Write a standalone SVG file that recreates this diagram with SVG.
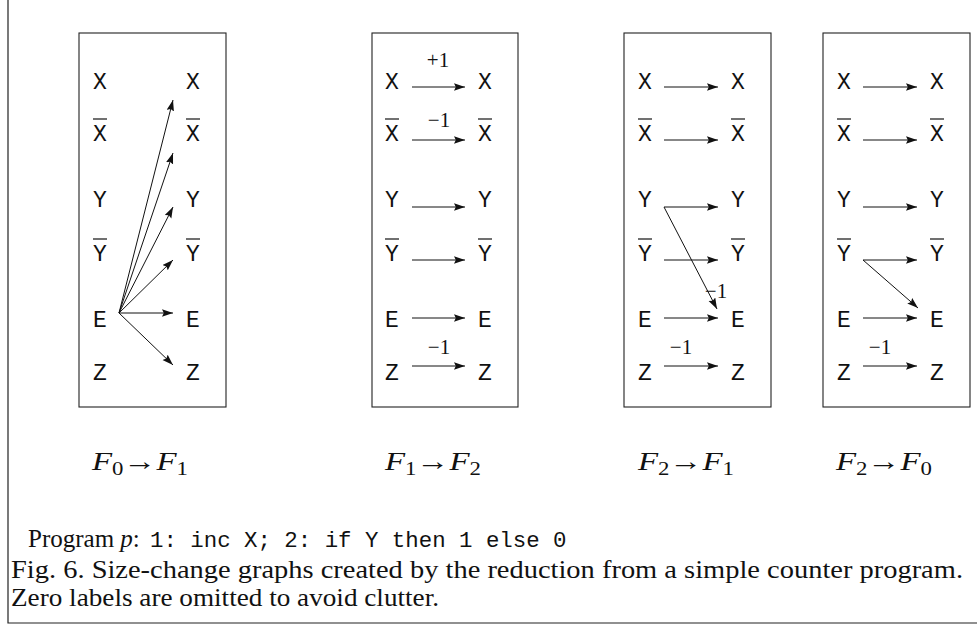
<svg xmlns="http://www.w3.org/2000/svg" width="977" height="626" viewBox="0 0 977 626">
<defs>
<style>
.bg{fill:#fff}
.box{fill:none;stroke:#222;stroke-width:1.1}
.frame{fill:none;stroke:#222;stroke-width:1.2}
.v{font-family:"Liberation Mono","DejaVu Sans Mono",monospace;font-size:23px;fill:#111;text-anchor:middle}
.ovl{stroke:#111;stroke-width:1.2}
.e{stroke:#111;stroke-width:1;fill:none;marker-end:url(#ah)}
.lab{font-family:"Liberation Serif","DejaVu Serif",serif;font-size:21px;fill:#111;text-anchor:middle}
.cap{font-family:"Liberation Serif","DejaVu Serif",serif;font-size:25px;fill:#111}
.fl{font-family:"Liberation Serif","DejaVu Serif",serif;font-size:26px;fill:#111}
.pg{font-family:"Liberation Serif","DejaVu Serif",serif;font-size:25px;fill:#111}
.tt{font-family:"Liberation Mono","DejaVu Sans Mono",monospace;font-size:22.4px}
</style>
<marker id="ah" markerWidth="12" markerHeight="8" refX="11" refY="3.75" orient="auto" markerUnits="userSpaceOnUse">
<path d="M0,0 L11,3.75 L0,7.5 L1.8,3.75 z" fill="#111"/>
</marker>
</defs>
<rect class="bg" x="0" y="0" width="977" height="626"/>
<path class="frame" d="M8,0 V623 H977"/>

<g id="graph-F0F1">
<rect class="box" x="79" y="33" width="147" height="374"/>
<g id="g1-X"><text class="v" x="100" y="89">X</text></g>
<g id="g1-Xb"><text class="v" x="100" y="141">X</text><line class="ovl" x1="93" y1="119" x2="107" y2="119"/></g>
<g id="g1-Y"><text class="v" x="100" y="207">Y</text></g>
<g id="g1-Yb"><text class="v" x="100" y="261">Y</text><line class="ovl" x1="93" y1="239" x2="107" y2="239"/></g>
<g id="g1-E"><text class="v" x="100" y="327">E</text></g>
<g id="g1-Z"><text class="v" x="100" y="380">Z</text></g>
<g id="g1-X2"><text class="v" x="193" y="89">X</text></g>
<g id="g1-Xb2"><text class="v" x="193" y="141">X</text><line class="ovl" x1="186" y1="119" x2="200" y2="119"/></g>
<g id="g1-Y2"><text class="v" x="193" y="207">Y</text></g>
<g id="g1-Yb2"><text class="v" x="193" y="261">Y</text><line class="ovl" x1="186" y1="239" x2="200" y2="239"/></g>
<g id="g1-E2"><text class="v" x="193" y="327">E</text></g>
<g id="g1-Z2"><text class="v" x="193" y="380">Z</text></g>
</g>

<g id="graph-F1F2">
<rect class="box" x="372" y="33" width="146" height="374"/>
<g id="g2-X"><text class="v" x="392" y="89">X</text></g>
<g id="g2-Xb"><text class="v" x="392" y="141">X</text><line class="ovl" x1="385" y1="119" x2="399" y2="119"/></g>
<g id="g2-Y"><text class="v" x="392" y="207">Y</text></g>
<g id="g2-Yb"><text class="v" x="392" y="261">Y</text><line class="ovl" x1="385" y1="239" x2="399" y2="239"/></g>
<g id="g2-E"><text class="v" x="392" y="327">E</text></g>
<g id="g2-Z"><text class="v" x="392" y="380">Z</text></g>
<g id="g2-X2"><text class="v" x="485" y="89">X</text></g>
<g id="g2-Xb2"><text class="v" x="485" y="141">X</text><line class="ovl" x1="478" y1="119" x2="492" y2="119"/></g>
<g id="g2-Y2"><text class="v" x="485" y="207">Y</text></g>
<g id="g2-Yb2"><text class="v" x="485" y="261">Y</text><line class="ovl" x1="478" y1="239" x2="492" y2="239"/></g>
<g id="g2-E2"><text class="v" x="485" y="327">E</text></g>
<g id="g2-Z2"><text class="v" x="485" y="380">Z</text></g>
</g>

<g id="graph-F2F1">
<rect class="box" x="624" y="33" width="147" height="374"/>
<g id="g3-X"><text class="v" x="645" y="89">X</text></g>
<g id="g3-Xb"><text class="v" x="645" y="141">X</text><line class="ovl" x1="638" y1="119" x2="652" y2="119"/></g>
<g id="g3-Y"><text class="v" x="645" y="207">Y</text></g>
<g id="g3-Yb"><text class="v" x="645" y="261">Y</text><line class="ovl" x1="638" y1="239" x2="652" y2="239"/></g>
<g id="g3-E"><text class="v" x="645" y="327">E</text></g>
<g id="g3-Z"><text class="v" x="645" y="380">Z</text></g>
<g id="g3-X2"><text class="v" x="738" y="89">X</text></g>
<g id="g3-Xb2"><text class="v" x="738" y="141">X</text><line class="ovl" x1="731" y1="119" x2="745" y2="119"/></g>
<g id="g3-Y2"><text class="v" x="738" y="207">Y</text></g>
<g id="g3-Yb2"><text class="v" x="738" y="261">Y</text><line class="ovl" x1="731" y1="239" x2="745" y2="239"/></g>
<g id="g3-E2"><text class="v" x="738" y="327">E</text></g>
<g id="g3-Z2"><text class="v" x="738" y="380">Z</text></g>
</g>

<g id="graph-F2F0">
<rect class="box" x="823" y="33" width="147" height="374"/>
<g id="g4-X"><text class="v" x="844" y="89">X</text></g>
<g id="g4-Xb"><text class="v" x="844" y="141">X</text><line class="ovl" x1="837" y1="119" x2="851" y2="119"/></g>
<g id="g4-Y"><text class="v" x="844" y="207">Y</text></g>
<g id="g4-Yb"><text class="v" x="844" y="261">Y</text><line class="ovl" x1="837" y1="239" x2="851" y2="239"/></g>
<g id="g4-E"><text class="v" x="844" y="327">E</text></g>
<g id="g4-Z"><text class="v" x="844" y="380">Z</text></g>
<g id="g4-X2"><text class="v" x="937" y="89">X</text></g>
<g id="g4-Xb2"><text class="v" x="937" y="141">X</text><line class="ovl" x1="930" y1="119" x2="944" y2="119"/></g>
<g id="g4-Y2"><text class="v" x="937" y="207">Y</text></g>
<g id="g4-Yb2"><text class="v" x="937" y="261">Y</text><line class="ovl" x1="930" y1="239" x2="944" y2="239"/></g>
<g id="g4-E2"><text class="v" x="937" y="327">E</text></g>
<g id="g4-Z2"><text class="v" x="937" y="380">Z</text></g>
</g>

<g id="connectors">
<line class="e" x1="119" y1="313" x2="173" y2="100"/>
<line class="e" x1="119" y1="313" x2="173" y2="153"/>
<line class="e" x1="119" y1="313" x2="173" y2="207"/>
<line class="e" x1="119" y1="313" x2="173" y2="260"/>
<line class="e" x1="119" y1="313" x2="173" y2="313"/>
<line class="e" x1="119" y1="313" x2="173" y2="365"/>

<line class="e" x1="412" y1="87" x2="465" y2="87"/>
<line class="e" x1="412" y1="140" x2="465" y2="140"/>
<line class="e" x1="412" y1="207" x2="465" y2="207"/>
<line class="e" x1="412" y1="260" x2="465" y2="260"/>
<line class="e" x1="412" y1="318" x2="465" y2="318"/>
<line class="e" x1="412" y1="366" x2="465" y2="366"/>
<text class="lab" x="438" y="67">+1</text>
<text class="lab" x="439" y="127">−1</text>
<text class="lab" x="439" y="354">−1</text>

<line class="e" x1="664" y1="87" x2="718" y2="87"/>
<line class="e" x1="664" y1="140" x2="718" y2="140"/>
<line class="e" x1="664" y1="207" x2="718" y2="207"/>
<line class="e" x1="664" y1="260" x2="718" y2="260"/>
<line class="e" x1="664" y1="318" x2="718" y2="318"/>
<line class="e" x1="664" y1="366" x2="718" y2="366"/>
<line class="e" x1="664" y1="207" x2="717" y2="309"/>
<text class="lab" x="716" y="298">−1</text>
<text class="lab" x="681" y="354">−1</text>

<line class="e" x1="863" y1="87" x2="917" y2="87"/>
<line class="e" x1="863" y1="140" x2="917" y2="140"/>
<line class="e" x1="863" y1="207" x2="917" y2="207"/>
<line class="e" x1="863" y1="260" x2="917" y2="260"/>
<line class="e" x1="863" y1="318" x2="917" y2="318"/>
<line class="e" x1="863" y1="366" x2="917" y2="366"/>
<line class="e" x1="863" y1="260" x2="918" y2="308"/>
<text class="lab" x="880" y="354">−1</text>
</g>

<g id="graph-titles">
<text class="fl" x="92" y="470" textLength="96" lengthAdjust="spacingAndGlyphs"><tspan font-style="italic">F</tspan><tspan font-size="18" dy="5">0</tspan><tspan dy="-5">→</tspan><tspan font-style="italic">F</tspan><tspan font-size="18" dy="5">1</tspan></text>
<text class="fl" x="385" y="470" textLength="96" lengthAdjust="spacingAndGlyphs"><tspan font-style="italic">F</tspan><tspan font-size="18" dy="5">1</tspan><tspan dy="-5">→</tspan><tspan font-style="italic">F</tspan><tspan font-size="18" dy="5">2</tspan></text>
<text class="fl" x="638" y="470" textLength="96" lengthAdjust="spacingAndGlyphs"><tspan font-style="italic">F</tspan><tspan font-size="18" dy="5">2</tspan><tspan dy="-5">→</tspan><tspan font-style="italic">F</tspan><tspan font-size="18" dy="5">1</tspan></text>
<text class="fl" x="836" y="470" textLength="96" lengthAdjust="spacingAndGlyphs"><tspan font-style="italic">F</tspan><tspan font-size="18" dy="5">2</tspan><tspan dy="-5">→</tspan><tspan font-style="italic">F</tspan><tspan font-size="18" dy="5">0</tspan></text>
</g>

<g id="program">
<text class="pg" x="28" y="547">Program <tspan font-style="italic">p</tspan>: <tspan class="tt" x="150">1: inc X; 2: if Y then 1 else 0</tspan></text>
</g>

<g id="caption">
<text class="cap" x="11" y="578" textLength="952" lengthAdjust="spacingAndGlyphs">Fig. 6. Size-change graphs created by the reduction from a simple counter program.</text>
<text class="cap" x="11" y="606" textLength="428" lengthAdjust="spacingAndGlyphs">Zero labels are omitted to avoid clutter.</text>
</g>
</svg>
